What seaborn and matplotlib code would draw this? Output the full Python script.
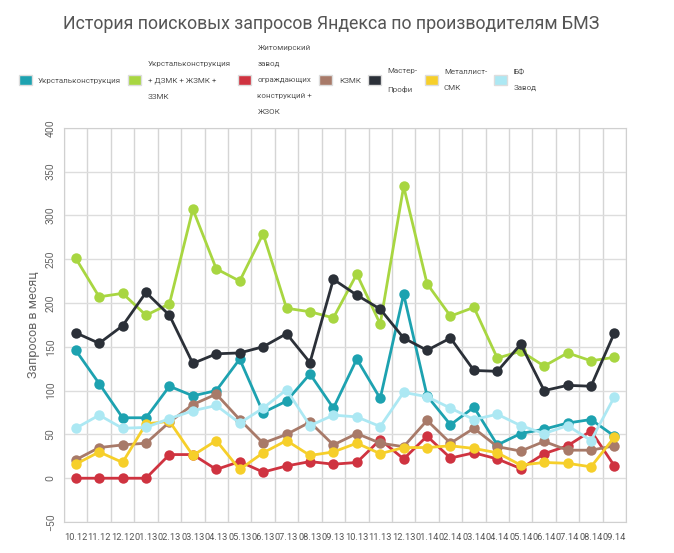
import numpy as np
import pandas as pd
import matplotlib
matplotlib.use("Agg")
import matplotlib.pyplot as plt
import seaborn as sns
from matplotlib.patches import Patch
from matplotlib.ticker import FixedLocator

months = ["10.12", "11.12", "12.12", "01.13", "02.13", "03.13", "04.13", "05.13",
          "06.13", "07.13", "08.13", "09.13", "10.13", "11.13", "12.13", "01.14",
          "02.14", "03.14", "04.14", "05.14", "06.14", "07.14", "08.14", "09.14"]

ukrstal = [146, 108, 69, 69, 105, 94, 100, 136, 75, 88, 119, 80,
           136, 91, 210, 94, 61, 81, 38, 51, 56, 63, 67, 48]
ukrstal_group = [251, 207, 211, 186, 199, 307, 239, 225, 279, 194, 190, 183,
                 233, 176, 333, 222, 185, 195, 137, 145, 128, 143, 134, 138]
zhitomir = [0, 0, 0, 0, 27, 27, 10, 19, 7, 14, 19, 16,
            18, 44, 22, 48, 23, 29, 22, 11, 28, 37, 54, 14]
kzmk = [21, 35, 38, 40, 64, 84, 96, 67, 40, 50, 64, 38,
        51, 40, 36, 66, 40, 57, 36, 31, 42, 32, 32, 37]
master = [166, 154, 174, 212, 186, 131, 142, 143, 150, 165, 132, 227,
          209, 193, 160, 146, 160, 123, 122, 153, 100, 106, 105, 166]
metallist = [16, 30, 18, 62, 65, 26, 43, 10, 29, 43, 26, 30,
             40, 28, 35, 35, 37, 34, 29, 15, 18, 17, 13, 47]
bf = [57, 72, 57, 58, 68, 77, 83, 63, 80, 101, 60, 72,
      70, 59, 98, 93, 80, 67, 73, 60, 51, 60, 43, 93]

series_names = ["Укрстальконструкция",
                "Укрстальконструкция\n+ ДЗМК + ЖЗМК +\nЗЗМК",
                "Житомирский\nзавод\nограждающих\nконструкций +\nЖЗОК",
                "КЗМК",
                "Мастер-\nПрофи",
                "Металлист-\nСМК",
                "БФ\nЗавод"]
series_values = [ukrstal, ukrstal_group, zhitomir, kzmk, master, metallist, bf]
colors = ["#1da2b0", "#a8d641", "#cf3340", "#a87a69", "#2b3038", "#f6cf2a", "#ace8f3"]

rows = []
for name, vals in zip(series_names, series_values):
    for i, (m, v) in enumerate(zip(months, vals)):
        rows.append({"pos": i, "month": m, "series": name, "value": v})
df = pd.DataFrame(rows)

sns.set_style("white")
plt.rcParams["font.family"] = ["Roboto", "DejaVu Sans"]

fig = plt.figure(figsize=(6.74, 5.53), dpi=100)
ax = fig.add_axes([0.095, 0.056, 0.834, 0.713])

sns.lineplot(data=df, x="pos", y="value", hue="series", hue_order=series_names,
             palette=colors, marker="o", markersize=7.5, markeredgewidth=0,
             linewidth=2, sort=False, legend=False, ax=ax, zorder=3)

ax.set_xlim(-0.5, len(months) - 0.5)
ax.set_ylim(-50, 400)
ax.set_yticks(np.arange(-50, 401, 50))
ax.set_xticks(range(len(months)))
ax.set_xticklabels(months, fontsize=6.7, color="#555555")
ax.xaxis.set_minor_locator(FixedLocator(np.arange(-0.5, len(months), 1)))
ax.tick_params(axis="x", which="both", length=0, pad=8)
ax.tick_params(axis="y", length=0, labelsize=7.5, labelcolor="#666666", pad=6)
for lab in ax.get_yticklabels():
    lab.set_rotation(90)
    lab.set_va("center")
ax.grid(True, axis="y", which="major", color="#dddddd", linewidth=1)
ax.grid(True, axis="x", which="minor", color="#d5d5d5", linewidth=1)
ax.grid(False, axis="x", which="major")
for s in ax.spines.values():
    s.set_color("#d0d0d0")
ax.set_xlabel("")
ax.set_ylabel("Запросов в месяц", fontsize=9, color="#666666", labelpad=4)

fig.text(0.093, 0.957, "История поисковых запросов Яндекса по производителям БМЗ",
         fontsize=12.8, color="#555555", ha="left", va="center")

handles = [Patch(facecolor=c, edgecolor="#dddddd", linewidth=1) for c in colors]
fig.legend(handles, series_names, loc="center left", bbox_to_anchor=(0.023, 0.855),
           ncol=7, frameon=False, labelcolor="#555555", fontsize=5.8,
           handlelength=1.6, handleheight=1.6, handletextpad=0.8,
           columnspacing=0.9, borderaxespad=0)
for t in fig.legends[0].get_texts():
    t.set_linespacing(3.0)

fig.savefig("out.png", dpi=100)
